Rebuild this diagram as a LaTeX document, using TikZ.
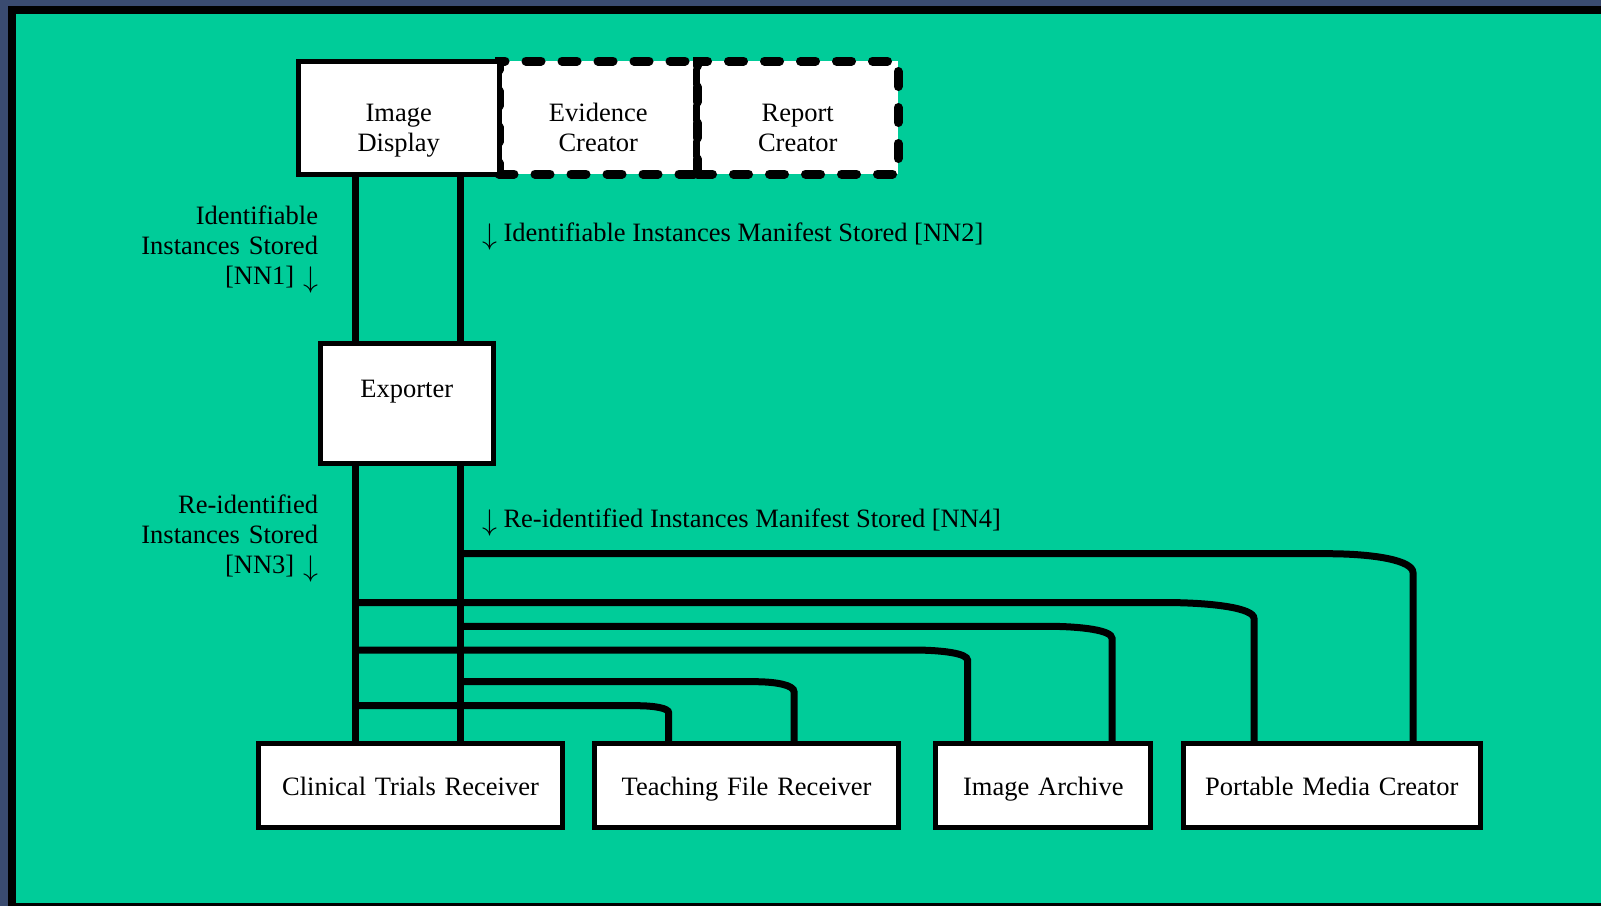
\documentclass[tikz,border=0pt]{standalone}
\usepackage{fontspec}
\setmainfont{Liberation Serif}
\usepackage{tikz}
\usetikzlibrary{positioning}
\definecolor{slide}{HTML}{00CC99}
\definecolor{navy}{HTML}{3A4B70}

\newcommand{\dnarrow}{\raisebox{-3pt}{\scalebox{1.2}{$\downarrow$}}}

% horizontal feed from a trunk, bending down onto a receiver
\newcommand{\feedline}[6]{%
  \draw[wire] (#1 |- 0,#2) -- ({#3-#4},#2)
    .. controls ({#3-0.45*#4},#2) and (#3,{#2+0.35*#5}) .. (#3,{#2+#5})
    -- (#6.north -| #3,0);}

\begin{document}
\begin{tikzpicture}[x=1pt, y=-1pt,
    every node/.style={font=\fontsize{26.5}{30}\selectfont, inner sep=0pt, outer sep=0pt},
    box/.style={draw, fill=white, line width=5pt, align=center},
    dbox/.style={draw, fill=white, line width=9pt, dash pattern=on 15pt off 21pt,
      line cap=round, align=center},
    topbox/.style={text height=60.7pt, text depth=52.3pt},
    lowbox/.style={box, text height=51.5pt, text depth=32.5pt, anchor=base},
    wire/.style={line width=7pt}]

    \useasboundingbox (0,0) rectangle (1601,906);
    \fill[navy] (0,0) rectangle (1601,906);
    \fill (8,6) rectangle (1601,906);
    \fill[slide] (16,14) rectangle (1601,903);

    \coordinate (tL) at (355,0);
    \coordinate (tR) at (460,0);

    % top row
    \node [dbox, topbox, text width=198.5pt, anchor=base] (evc) at (598.25,121.7) {Evidence\\Creator};
    \node [dbox, topbox, text width=200.5pt, right=0pt of evc] (rpc) {Report\\Creator};
    \node [box, topbox, text width=200.5pt, left=0pt of evc] (idd) {Image\\Display};
    \draw [line width=5pt] (evc.north east) -- (evc.south east);

    \node [box, text width=173.5pt, text height=53.8pt, text depth=66.2pt, anchor=base] (exp) at (406.75,397.3) {Exporter};

    % receivers
    \node [lowbox, text width=304pt] (ctr) at (410.5,795) {Clinical Trials Receiver};
    \node [lowbox, text width=303.5pt] (tfr) at (746.55,795) {Teaching File Receiver};
    \node [lowbox, text width=215pt] (iar) at (1043.3,795) {Image Archive};
    \node [lowbox, text width=296.5pt] (pmc) at (1331.75,795) {Portable Media Creator};

    % transaction labels
    \node [text width=200pt, align=right, anchor=base east] (nn1) at (318,224.3) {Identifiable\\Instances Stored\\{[NN1]} \dnarrow};
    \node [anchor=base west] (nn2) at (482,241.7) {\dnarrow{} Identifiable Instances Manifest Stored [NN2]};
    \node [text width=200pt, align=right, anchor=base east] (nn3) at (318,513) {Re-identified\\Instances Stored\\{[NN3]} \dnarrow};
    \node [anchor=base west] (nn4) at (482,527.6) {\dnarrow{} Re-identified Instances Manifest Stored [NN4]};

    % trunks
    \draw [wire] (idd.south -| tL) -- (exp.north -| tL);
    \draw [wire] (idd.south -| tR) -- (exp.north -| tR);
    \draw [wire] (exp.south -| tL) -- (ctr.north -| tL);
    \draw [wire] (exp.south -| tR) -- (ctr.north -| tR);

    % feeds
    \feedline{tR}{553.7}{1413}{86}{19}{pmc}
    \feedline{tL}{602.5}{1254}{91}{16}{pmc}
    \feedline{tR}{626.3}{1112}{65}{12}{iar}
    \feedline{tL}{650}{967.5}{55}{10}{iar}
    \feedline{tR}{681.7}{794}{39}{10}{tfr}
    \feedline{tL}{705.7}{668.7}{32}{7}{tfr}
\end{tikzpicture}
\end{document}
